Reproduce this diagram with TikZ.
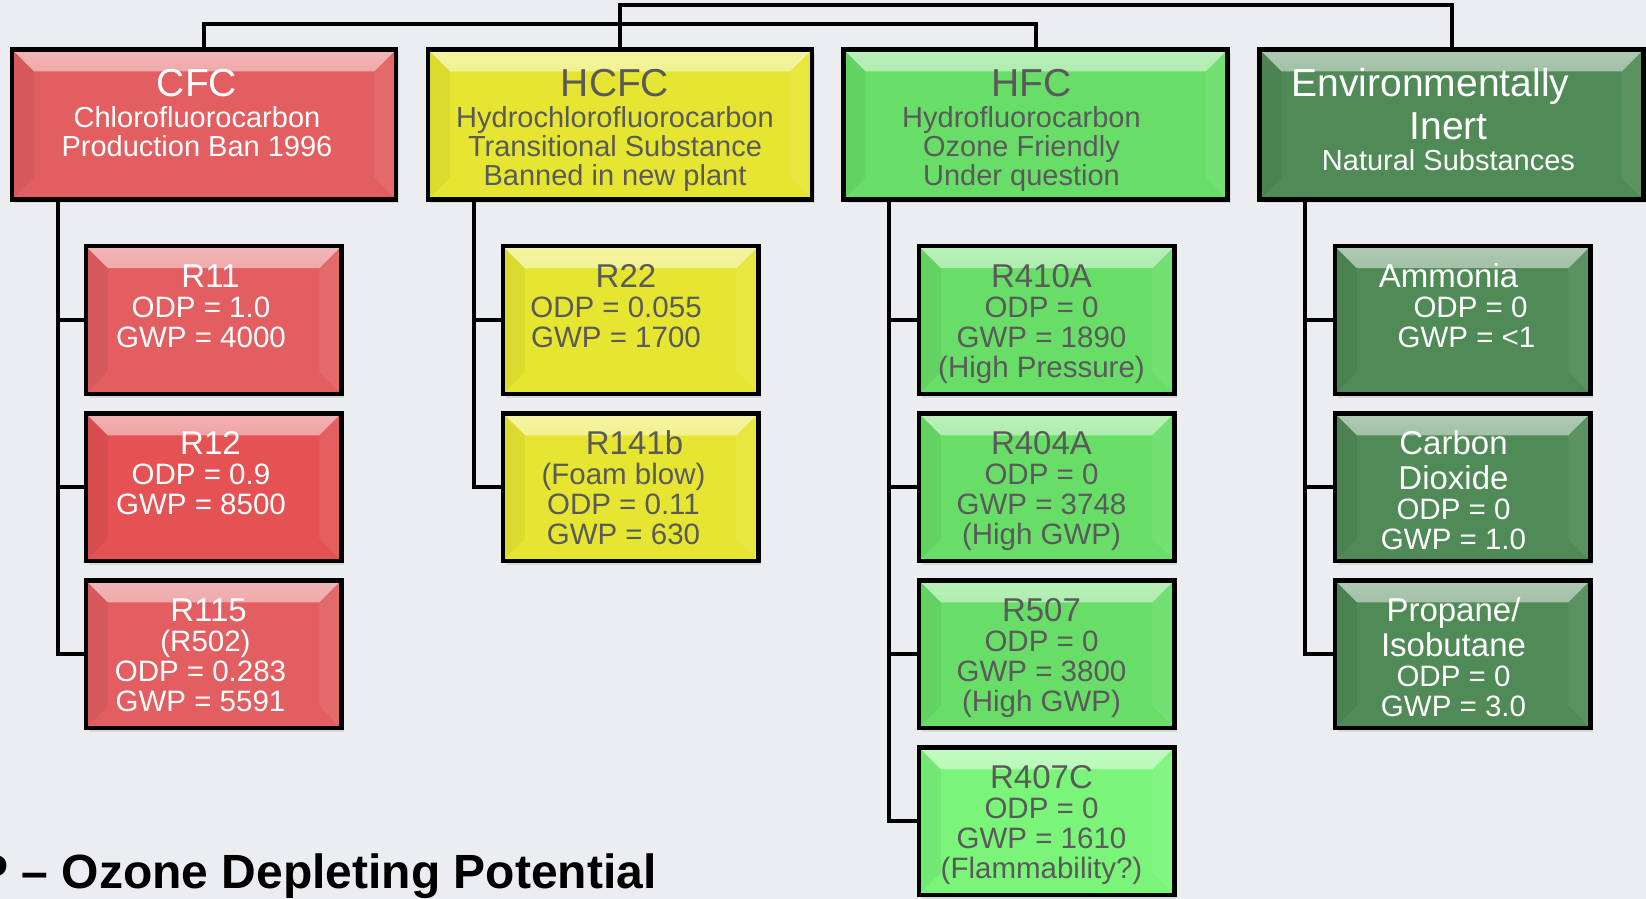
\documentclass[tikz,border=0pt]{standalone}
\usepackage{fontspec}
\setmainfont{Liberation Sans}
\usepackage{tikz}
\usetikzlibrary{shadows}

\definecolor{bgcol}{RGB}{236,237,240}
\definecolor{cfcred}{RGB}{226,94,96}
\definecolor{cfcredb}{RGB}{228,82,84}
\definecolor{hcfcyel}{RGB}{230,230,50}
\definecolor{hfcgrn}{RGB}{104,222,104}
\definecolor{hfcgrnb}{RGB}{122,245,122}
\definecolor{envgrn}{RGB}{80,138,87}
\definecolor{txtgrey}{RGB}{90,90,90}

% text of a family box: [left shift]{title}{subtitle}
\newcommand{\topcell}[3][0pt]{\parbox[c][75pt][t]{192pt}{\centering
  \leftskip=-#1 plus 1fil\rightskip=#1 plus 1fil
  {\fontsize{19.5}{21.5}\selectfont\rule{0pt}{23.5pt}#2\par}
  {\fontsize{14.5}{14.5}\selectfont\vspace{1.25pt}#3\par}}}
% text of a refrigerant box: [left shift]{name}{values}
\newcommand{\kidcell}[3][0pt]{\parbox[c][73.75pt][t]{127.75pt}{\centering
  \leftskip=-#1 plus 1fil\rightskip=#1 plus 1fil
  {\fontsize{16.5}{17.5}\selectfont\rule{0pt}{20.5pt}#2\par}
  {\fontsize{14.75}{15}\selectfont #3\par}}}

\tikzset{
  box/.style={draw=black, line width=2.25pt, inner sep=0pt,
    drop shadow={opacity=.18, shadow xshift=1.5pt, shadow yshift=-2pt}},
  bevel/.style={fill=#1, path picture={
    \shade[top color=#1!45!white, bottom color=#1]
      (path picture bounding box.north west) -- (path picture bounding box.north east)
      -- ++(-11pt,-11pt) -- ([shift={(11pt,-11pt)}]path picture bounding box.north west) -- cycle;
    \fill[black, opacity=.05]
      (path picture bounding box.north west) -- ++(11pt,-11pt)
      -- ([shift={(11pt,11pt)}]path picture bounding box.south west) -- (path picture bounding box.south west) -- cycle;
    \fill[white, opacity=.07]
      (path picture bounding box.north east) -- ++(-11pt,-11pt)
      -- ([shift={(-11pt,11pt)}]path picture bounding box.south east) -- (path picture bounding box.south east) -- cycle;
  }},
  link/.style={draw=black, line width=2pt},
}

\begin{document}
\begin{tikzpicture}[x=0.5pt, y=-0.5pt]
	\useasboundingbox (0,0) rectangle (1646,899);
	\clip (0,0) rectangle (1646,899);
	\fill[bgcol] (0,0) rectangle (1646,899);

	% families
	\node [box, bevel=cfcred, text=white] (cfc) at (204,124.5) {\topcell[3.5pt]{CFC}{Chlorofluorocarbon\\Production Ban 1996}};
	\node [box, bevel=hcfcyel, text=txtgrey] (hcfc) at (620,124.5) {\topcell[2.5pt]{HCFC}{Hydrochlorofluorocarbon\\Transitional Substance\\Banned in new plant}};
	\node [box, bevel=hfcgrn, text=txtgrey] (hfc) at (1035.5,124.5) {\topcell[7pt]{\hspace*{10pt}HFC}{Hydrofluorocarbon\\Ozone Friendly\\Under question}};
	\node [box, bevel=envgrn, text=white] (env) at (1451.5,124.5) {\topcell[1.5pt]{Environmentally\hspace*{18pt}\null\\Inert}{Natural Substances}};

	% refrigerants
	\node [box, bevel=cfcred, text=white] (r11) at (213.5,320) {\kidcell[6.25pt]{\hspace*{9.5pt}R11}{ODP = 1.0\\GWP = 4000}};
	\node [box, bevel=cfcredb, text=white] (r12) at (213.5,487) {\kidcell[6.25pt]{\hspace*{9.5pt}R12}{ODP = 0.9\\GWP = 8500}};
	\node [box, bevel=cfcred, text=white] (r115) at (213.5,654) {\kidcell[6.5pt]{\hspace*{8pt}R115}{\hspace*{5pt}(R502)\\ODP = 0.283\\GWP = 5591}};

	\node [box, bevel=hcfcyel, text=txtgrey] (r22) at (630.5,320) {\kidcell[7.25pt]{\hspace*{10pt}R22}{ODP = 0.055\\GWP = 1700}};
	\node [box, bevel=hcfcyel, text=txtgrey] (r141b) at (630.5,487) {\kidcell[3.5pt]{\hspace*{11pt}R141b}{(Foam blow)\\ODP = 0.11\\GWP = 630}};

	\node [box, bevel=hfcgrn, text=txtgrey] (r410a) at (1046.5,320) {\kidcell[2.5pt]{R410A}{ODP = 0\\GWP = 1890\\(High Pressure)}};
	\node [box, bevel=hfcgrn, text=txtgrey] (r404a) at (1046.5,487) {\kidcell[2.5pt]{R404A}{ODP = 0\\GWP = 3748\\(High GWP)}};
	\node [box, bevel=hfcgrn, text=txtgrey] (r507) at (1046.5,654) {\kidcell[2.5pt]{R507}{ODP = 0\\GWP = 3800\\(High GWP)}};
	\node [box, bevel=hfcgrnb, text=txtgrey] (r407c) at (1046.5,821) {\kidcell[2.5pt]{R407C}{ODP = 0\\GWP = 1610\\(Flammability?)}};

	\node [box, bevel=envgrn, text=white] (nh3) at (1462.5,320) {\kidcell{Ammonia\hspace*{14pt}}{\hspace*{8pt}ODP = 0\\\hspace*{4pt}GWP = <1}};
	\node [box, bevel=envgrn, text=white] (co2) at (1462.5,487) {\kidcell[4.5pt]{Carbon\\Dioxide}{ODP = 0\\GWP = 1.0}};
	\node [box, bevel=envgrn, text=white] (hc) at (1462.5,654) {\kidcell[4.5pt]{Propane/\\Isobutane}{ODP = 0\\GWP = 3.0}};

	\node [anchor=base east, inner sep=0pt, font=\fontsize{24}{28}\selectfont\bfseries] (odp) at (657,888) {ODP -- Ozone Depleting Potential};

	% top bars
	\draw [link] (cfc.north) -- ++(0,-23) -| (hfc.north);
	\draw [link] (hcfc.north) -- ++(0,-42) -| (env.north);

	% trunks
	\draw [link] ([xshift=24pt]cfc.south west) |- (r11.west);
	\draw [link] ([xshift=24pt]cfc.south west) |- (r12.west);
	\draw [link] ([xshift=24pt]cfc.south west) |- (r115.west);
	\draw [link] ([xshift=24pt]hcfc.south west) |- (r22.west);
	\draw [link] ([xshift=24pt]hcfc.south west) |- (r141b.west);
	\draw [link] ([xshift=24pt]hfc.south west) |- (r410a.west);
	\draw [link] ([xshift=24pt]hfc.south west) |- (r404a.west);
	\draw [link] ([xshift=24pt]hfc.south west) |- (r507.west);
	\draw [link] ([xshift=24pt]hfc.south west) |- (r407c.west);
	\draw [link] ([xshift=24pt]env.south west) |- (nh3.west);
	\draw [link] ([xshift=24pt]env.south west) |- (co2.west);
	\draw [link] ([xshift=24pt]env.south west) |- (hc.west);
\end{tikzpicture}
\end{document}
